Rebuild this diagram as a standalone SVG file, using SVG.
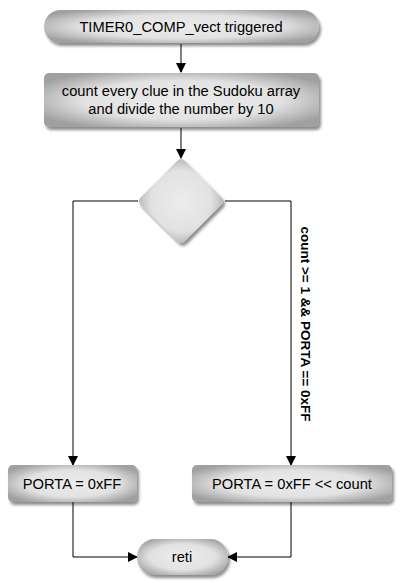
<svg xmlns="http://www.w3.org/2000/svg" width="401" height="583" viewBox="0 0 401 583">
<defs>
<radialGradient id="g" cx="0.5" cy="0.5" r="0.6">
<stop offset="0" stop-color="#ececec"/>
<stop offset="0.6" stop-color="#e2e2e2"/>
<stop offset="1" stop-color="#a0a0a0"/>
</radialGradient>
<filter id="sh" x="-20%" y="-20%" width="140%" height="150%">
<feGaussianBlur in="SourceAlpha" stdDeviation="1.5"/>
<feOffset dx="2" dy="3" result="b"/>
<feComponentTransfer><feFuncA type="linear" slope="0.45"/></feComponentTransfer>
<feMerge><feMergeNode/><feMergeNode in="SourceGraphic"/></feMerge>
</filter>
<marker id="ar" markerWidth="10" markerHeight="10" refX="9" refY="5" orient="auto" markerUnits="userSpaceOnUse">
<path d="M0,0 L10,5 L0,10 z" fill="#000"/>
</marker>
<style>
.n{fill:url(#g);filter:url(#sh);}
.t{font-family:"Liberation Sans",Arial,sans-serif;font-size:14.7px;fill:#000;text-anchor:middle;}
.c{fill:none;stroke:#000;stroke-width:1;}
</style>
</defs>
<rect width="401" height="583" fill="#fff"/>
<g id="connectors">
<path class="c" d="M181,44 V72" marker-end="url(#ar)"/>
<path class="c" d="M181,128 V158" marker-end="url(#ar)"/>
<path class="c" d="M138,201 H73 V465" marker-end="url(#ar)"/>
<path class="c" d="M225,201 H291 V465" marker-end="url(#ar)"/>
<path class="c" d="M73,502 V557 H137" marker-end="url(#ar)"/>
<path class="c" d="M291,502 V557 H228" marker-end="url(#ar)"/>
<text class="t" transform="translate(301,324) rotate(90)" style="font-weight:bold;font-size:13.5px">count &gt;= 1 &amp;&amp;  PORTA == 0xFF</text>
</g>
<g id="start">
<rect class="n" x="44" y="10" width="275" height="33" rx="16.5"/>
<text class="t" x="181" y="32">TIMER0_COMP_vect triggered</text>
</g>
<g id="count">
<rect class="n" x="44" y="73" width="275" height="54" rx="5"/>
<text class="t" x="181" y="96">count every clue in the Sudoku array</text>
<text class="t" x="181" y="114">and divide the number by 10</text>
</g>
<g id="decision">
<path class="n" d="M181,159 Q183,159 185,161 L222,198 Q224,201 222,204 L185,241 Q181,245 177,241 L140,204 Q138,201 140,198 L177,161 Q179,159 181,159 z"/>
</g>
<g id="porta_ff">
<rect class="n" x="8" y="465" width="129" height="37" rx="5"/>
<text class="t" x="72" y="489">PORTA = 0xFF</text>
</g>
<g id="porta_shift">
<rect class="n" x="192" y="465" width="200" height="37" rx="5"/>
<text class="t" x="292" y="489">PORTA = 0xFF &lt;&lt; count</text>
</g>
<g id="reti">
<rect class="n" x="137" y="539" width="91" height="36" rx="18"/>
<text class="t" x="182" y="562">reti</text>
</g>
</svg>
